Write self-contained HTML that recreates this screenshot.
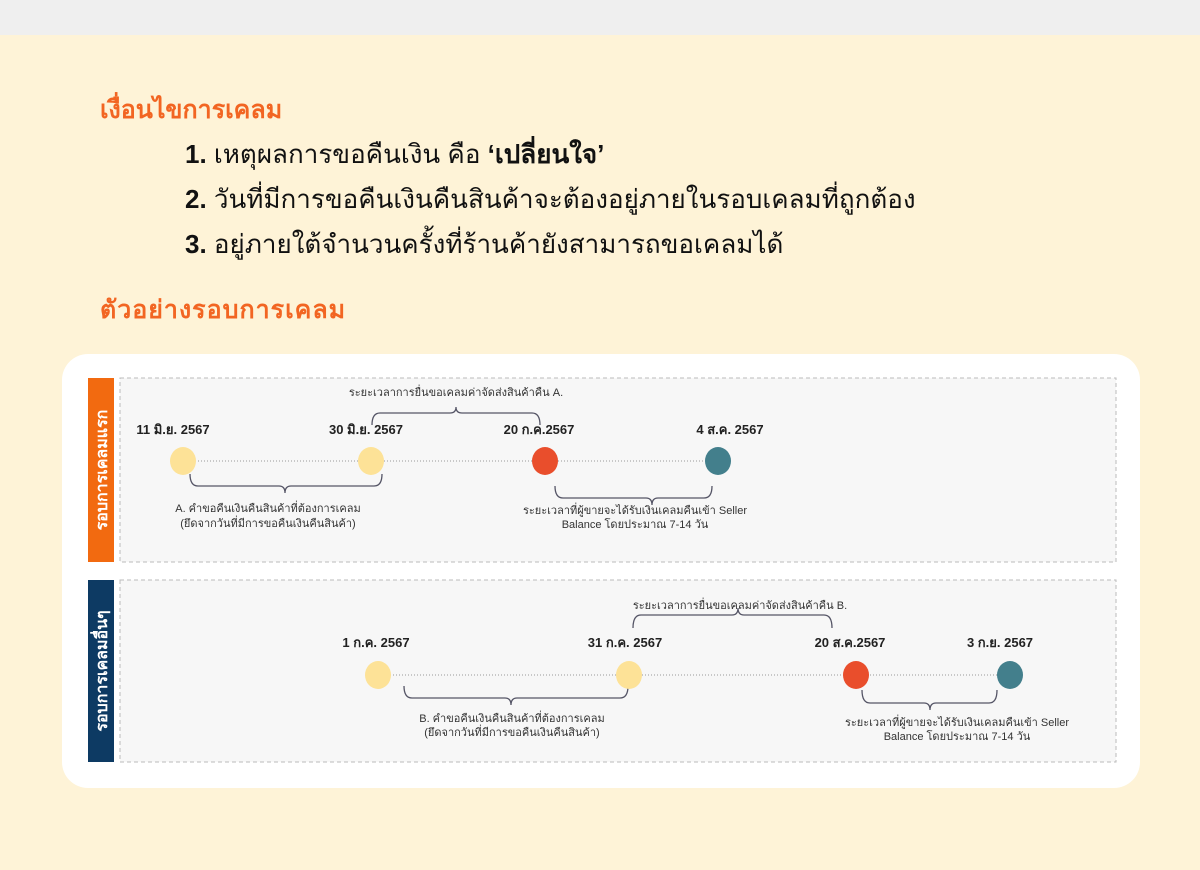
<!DOCTYPE html>
<html><head><meta charset="utf-8"><style>
body{margin:0;width:1200px;height:870px;background:#fef3d7;font-family:"Liberation Sans","DejaVu Sans",sans-serif;position:relative;overflow:hidden}
.top{position:absolute;left:0;top:0;width:1200px;height:35px;background:#efefef}
.h{position:absolute;left:100px;color:#f26522;font-weight:bold;font-size:25px}
.li{position:absolute;left:185px;font-size:26px;letter-spacing:0px;color:#111}
.card{position:absolute;left:62px;top:354px;width:1078px;height:434px;background:#fff;border-radius:26px}
svg{position:absolute;left:0;top:0}
</style></head><body>
<div class="top"></div>
<div class="h" style="top:90px">เงื่อนไขการเคลม</div>
<div class="li" style="top:134px"><b>1.</b> เหตุผลการขอคืนเงิน คือ <b>‘เปลี่ยนใจ’</b></div>
<div class="li" style="top:179px"><b>2.</b> วันที่มีการขอคืนเงินคืนสินค้าจะต้องอยู่ภายในรอบเคลมที่ถูกต้อง</div>
<div class="li" style="top:224px"><b>3.</b> อยู่ภายใต้จำนวนครั้งที่ร้านค้ายังสามารถขอเคลมได้</div>
<div class="h" style="top:290px;letter-spacing:1px">ตัวอย่างรอบการเคลม</div>
<div class="card"></div>
<svg width="1200" height="870" font-family="Liberation Sans, DejaVu Sans, sans-serif">
<rect x="120" y="378" width="996" height="184" fill="#f7f7f7" stroke="#bbb" stroke-dasharray="4 3"/>
<rect x="120" y="580" width="996" height="182" fill="#f7f7f7" stroke="#bbb" stroke-dasharray="4 3"/>
<rect x="88" y="378" width="26" height="184" fill="#f26a10"/>
<rect x="88" y="580" width="26" height="182" fill="#0d3a63"/>
<text transform="translate(107,470) rotate(-90)" text-anchor="middle" fill="#fff" font-size="16" font-weight="bold">รอบการเคลมแรก</text>
<text transform="translate(107,671) rotate(-90)" text-anchor="middle" fill="#fff" font-size="16" font-weight="bold">รอบการเคลมอื่นๆ</text>
<g stroke="#999" stroke-dasharray="1 2" stroke-width="1">
<line x1="183" y1="461" x2="718" y2="461"/><line x1="378" y1="675" x2="1010" y2="675"/></g>
<g stroke="#556" fill="none" stroke-width="1.3">
<path d="M372 425 Q372 413 380 413 L450 413 Q456 413 456 407 Q456 413 462 413 L532 413 Q540 413 540 425"/>
<path d="M190 474 Q190 486 198 486 L279 486 Q285 486 285 493 Q285 486 291 486 L374 486 Q382 486 382 474"/>
<path d="M555 486 Q555 498 563 498 L646 498 Q652 498 652 505 Q652 498 658 498 L704 498 Q712 498 712 486"/>
<path d="M633 628 Q633 615 641 615 L732 615 Q738 615 738 608 Q738 615 744 615 L824 615 Q832 615 832 628"/>
<path d="M404 686 Q404 698 412 698 L505 698 Q511 698 511 705 Q511 698 517 698 L620 698 Q628 698 628 686"/>
<path d="M862 690 Q862 703 870 703 L924 703 Q930 703 930 710 Q930 703 936 703 L989 703 Q997 703 997 690"/>
</g>
<ellipse cx="183" cy="461" rx="13" ry="14" fill="#fde297"/><ellipse cx="371" cy="461" rx="13" ry="14" fill="#fde297"/>
<ellipse cx="545" cy="461" rx="13" ry="14" fill="#e94e2c"/><ellipse cx="718" cy="461" rx="13" ry="14" fill="#437f8c"/>
<ellipse cx="378" cy="675" rx="13" ry="14" fill="#fde297"/><ellipse cx="629" cy="675" rx="13" ry="14" fill="#fde297"/>
<ellipse cx="856" cy="675" rx="13" ry="14" fill="#e94e2c"/><ellipse cx="1010" cy="675" rx="13" ry="14" fill="#437f8c"/>
<g font-size="13" font-weight="bold" fill="#222" text-anchor="middle">
<text x="173" y="434">11 มิ.ย. 2567</text><text x="366" y="434">30 มิ.ย. 2567</text><text x="539" y="434">20 ก.ค.2567</text><text x="730" y="434">4 ส.ค. 2567</text>
<text x="376" y="647">1 ก.ค. 2567</text><text x="625" y="647">31 ก.ค. 2567</text><text x="850" y="647">20 ส.ค.2567</text><text x="1000" y="647">3 ก.ย. 2567</text></g>
<g font-size="11" fill="#333" text-anchor="middle">
<text x="456" y="396">ระยะเวลาการยื่นขอเคลมค่าจัดส่งสินค้าคืน A.</text>
<text x="268" y="512">A. คำขอคืนเงินคืนสินค้าที่ต้องการเคลม</text><text x="268" y="527">(ยึดจากวันที่มีการขอคืนเงินคืนสินค้า)</text>
<text x="635" y="514">ระยะเวลาที่ผู้ขายจะได้รับเงินเคลมคืนเข้า Seller</text><text x="635" y="528">Balance โดยประมาณ 7-14 วัน</text>
<text x="740" y="609">ระยะเวลาการยื่นขอเคลมค่าจัดส่งสินค้าคืน B.</text>
<text x="512" y="722">B. คำขอคืนเงินคืนสินค้าที่ต้องการเคลม</text><text x="512" y="736">(ยึดจากวันที่มีการขอคืนเงินคืนสินค้า)</text>
<text x="957" y="726">ระยะเวลาที่ผู้ขายจะได้รับเงินเคลมคืนเข้า Seller</text><text x="957" y="740">Balance โดยประมาณ 7-14 วัน</text></g>
</svg>
</body></html>
